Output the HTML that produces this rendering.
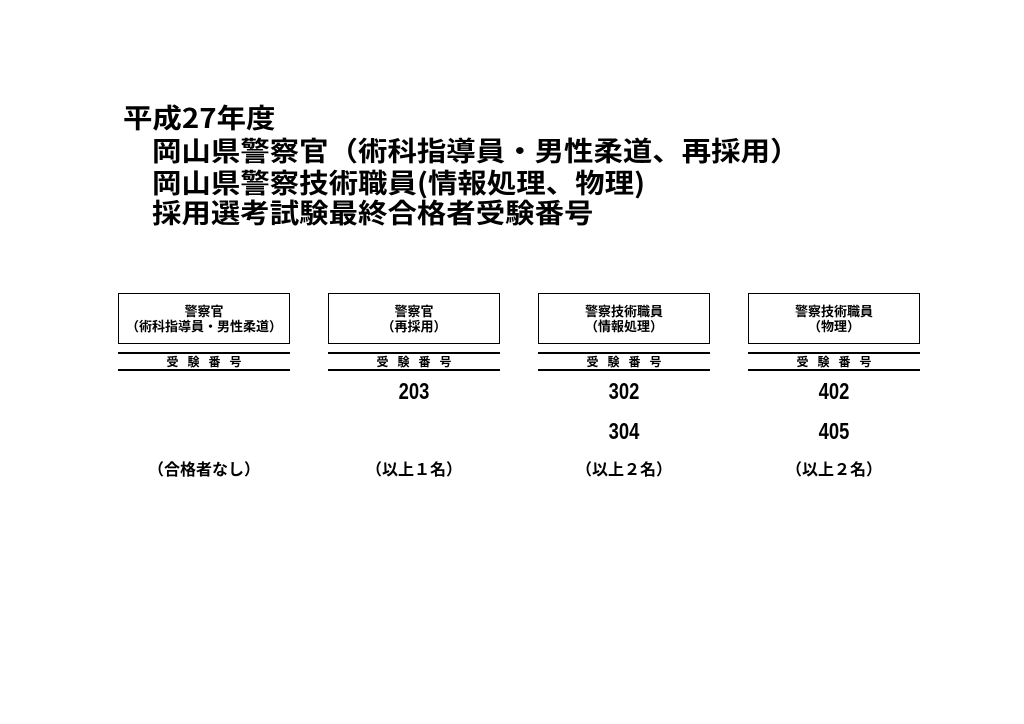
<!DOCTYPE html>
<html><head><meta charset="utf-8"><style>
body{margin:0;width:1024px;height:724px;background:#fff;position:relative;overflow:hidden;font-family:"Liberation Sans","Noto Sans CJK JP",sans-serif;color:#000}
.t{position:absolute;font-size:27px;font-weight:bold;line-height:32px;white-space:nowrap;font-family:"Noto Sans CJK JP",sans-serif;transform:scaleX(1.09);transform-origin:left}
.box{position:absolute;top:293px;width:170px;height:49px;border:1px solid #000;text-align:center;font-size:13px;font-weight:bold;line-height:15px;box-sizing:content-box;font-family:"Noto Sans CJK JP",sans-serif}
.box div:first-child{margin-top:9px}
.ln{position:absolute;width:172px;height:2px;background:#000}
.hd{position:absolute;top:354px;width:172px;text-align:center;font-size:12px;font-weight:bold;letter-spacing:9px;text-indent:9px;line-height:15px;font-family:"Noto Sans CJK JP",sans-serif}
.n{position:absolute;width:172px;text-align:center;font-size:23px;line-height:22px;font-weight:bold;font-family:"Liberation Sans Narrow","Liberation Sans",sans-serif;transform:scaleX(0.8)}
.f{position:absolute;top:458px;width:172px;text-align:center;font-size:16px;font-weight:bold;line-height:20px;font-family:"Noto Sans CJK JP",sans-serif}
</style></head><body>
<div class="t" style="left:123px;top:101px">平成27年度</div>
<div class="t" style="left:152px;top:134px">岡山県警察官（術科指導員・男性柔道、再採用）</div>
<div class="t" style="left:152px;top:166px">岡山県警察技術職員(情報処理、物理)</div>
<div class="t" style="left:152px;top:196px">採用選考試験最終合格者受験番号</div>

<div class="box" style="left:118px"><div>警察官</div><div>（術科指導員・男性柔道）</div></div>
<div class="box" style="left:328px"><div>警察官</div><div>（再採用）</div></div>
<div class="box" style="left:538px"><div>警察技術職員</div><div>（情報処理）</div></div>
<div class="box" style="left:748px"><div>警察技術職員</div><div>（物理）</div></div>

<div class="ln" style="left:118px;top:352px"></div><div class="ln" style="left:118px;top:369px"></div>
<div class="ln" style="left:328px;top:352px"></div><div class="ln" style="left:328px;top:369px"></div>
<div class="ln" style="left:538px;top:352px"></div><div class="ln" style="left:538px;top:369px"></div>
<div class="ln" style="left:748px;top:352px"></div><div class="ln" style="left:748px;top:369px"></div>

<div class="hd" style="left:118px">受験番号</div>
<div class="hd" style="left:328px">受験番号</div>
<div class="hd" style="left:538px">受験番号</div>
<div class="hd" style="left:748px">受験番号</div>

<div class="n" style="left:328px;top:380px">203</div>
<div class="n" style="left:538px;top:380px">302</div>
<div class="n" style="left:538px;top:420px">304</div>
<div class="n" style="left:748px;top:380px">402</div>
<div class="n" style="left:748px;top:420px">405</div>

<div class="f" style="left:118px">（合格者なし）</div>
<div class="f" style="left:328px">（以上１名）</div>
<div class="f" style="left:538px">（以上２名）</div>
<div class="f" style="left:748px">（以上２名）</div>
</body></html>
